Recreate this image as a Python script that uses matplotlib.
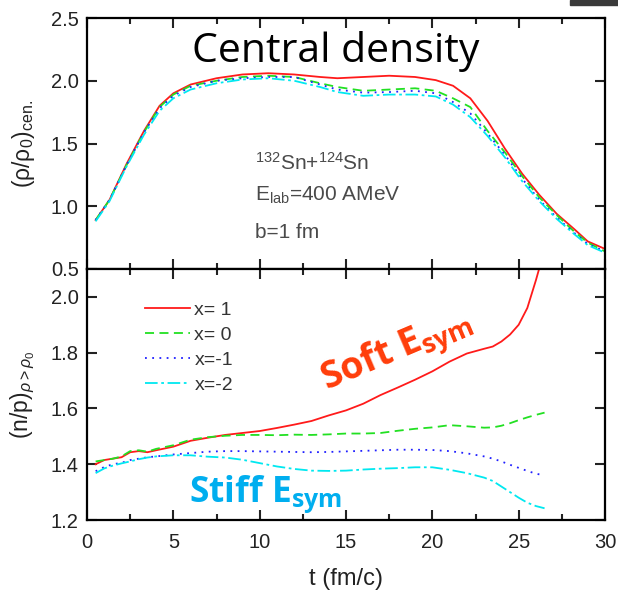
import matplotlib
matplotlib.use("Agg")
import matplotlib.pyplot as plt
from matplotlib.patches import Rectangle

plt.rcParams["font.family"] = ["Liberation Sans", "DejaVu Sans"]
plt.rcParams["mathtext.fontset"] = "custom"
plt.rcParams["mathtext.rm"] = "Liberation Sans"
plt.rcParams["mathtext.it"] = "Liberation Sans:italic"
plt.rcParams["mathtext.bf"] = "Liberation Sans:bold"
plt.rcParams["mathtext.sf"] = "Open Sans:bold"

# ---------------------------------------------------------------------------
# Data
# ---------------------------------------------------------------------------
labels = ["x= 1", "x= 0", "x=-1", "x=-2"]

# top panel: central density
t_top = [0.5, 1.3, 2.3, 3.3, 4.2, 5.0, 6.0, 7.5, 9.0, 10.5, 12.0, 13.5, 14.5,
         16.0, 17.5, 19.0, 20.2, 21.2, 22.2, 23.2, 24.2, 25.2, 26.2, 27.2,
         28.2, 29.0, 30.0]
rho_x1 = [0.89, 1.05, 1.34, 1.60, 1.80, 1.90, 1.97, 2.02, 2.05, 2.06, 2.05,
          2.03, 2.02, 2.03, 2.04, 2.03, 2.005, 1.96, 1.86, 1.68, 1.46, 1.26,
          1.09, 0.94, 0.82, 0.72, 0.66]
rho_x0 = [0.89, 1.05, 1.33, 1.59, 1.79, 1.89, 1.96, 2.00, 2.03, 2.04, 2.03,
          1.98, 1.95, 1.92, 1.93, 1.94, 1.92, 1.86, 1.79, 1.60, 1.43, 1.24,
          1.07, 0.93, 0.80, 0.71, 0.64]
rho_xm1 = [0.89, 1.05, 1.33, 1.59, 1.78, 1.88, 1.95, 2.00, 2.02, 2.03, 2.03,
           1.97, 1.93, 1.905, 1.91, 1.92, 1.90, 1.83, 1.74, 1.58, 1.41, 1.22,
           1.05, 0.91, 0.79, 0.70, 0.64]
rho_xm2 = [0.88, 1.04, 1.32, 1.57, 1.76, 1.86, 1.93, 1.98, 2.01, 2.02, 2.00,
           1.95, 1.91, 1.88, 1.89, 1.89, 1.875, 1.81, 1.71, 1.56, 1.39, 1.20,
           1.04, 0.90, 0.78, 0.69, 0.63]

# bottom panel: n/p ratio in compressed region
t_bot = [0.5, 1.0, 1.5, 2.0, 2.5, 3.0, 3.5, 4.0, 5.0, 6.0, 7.0, 8.0, 9.0,
         10.0, 11.0, 12.0, 13.0, 14.0, 15.0, 16.0, 17.0, 18.0, 19.0, 20.0,
         21.0, 22.0, 23.0, 23.5, 24.0, 24.5, 25.0, 25.5, 26.0, 26.5]
np_x1 = [1.40, 1.415, 1.42, 1.425, 1.443, 1.447, 1.443, 1.45, 1.463, 1.484,
         1.495, 1.505, 1.512, 1.519, 1.53, 1.542, 1.555, 1.575, 1.593, 1.617,
         1.648, 1.675, 1.703, 1.733, 1.768, 1.797, 1.814, 1.822, 1.84, 1.865,
         1.90, 1.96, 2.06, 2.17]
np_x0 = [1.41, 1.415, 1.42, 1.428, 1.447, 1.45, 1.445, 1.455, 1.468, 1.488,
         1.497, 1.502, 1.505, 1.505, 1.504, 1.506, 1.505, 1.507, 1.51, 1.51,
         1.512, 1.52, 1.527, 1.532, 1.54, 1.536, 1.531, 1.532, 1.538, 1.547,
         1.558, 1.568, 1.577, 1.585]
np_xm1 = [1.375, 1.39, 1.40, 1.405, 1.415, 1.42, 1.425, 1.428, 1.435, 1.44,
          1.445, 1.447, 1.447, 1.446, 1.445, 1.444, 1.443, 1.444, 1.446,
          1.448, 1.45, 1.452, 1.452, 1.451, 1.447, 1.439, 1.428, 1.42, 1.41,
          1.398, 1.387, 1.376, 1.366, 1.36]
np_xm2 = [1.368, 1.385, 1.395, 1.403, 1.41, 1.418, 1.424, 1.428, 1.432, 1.432,
          1.427, 1.424, 1.416, 1.404, 1.392, 1.383, 1.377, 1.376, 1.377,
          1.381, 1.384, 1.386, 1.389, 1.389, 1.38, 1.368, 1.352, 1.34, 1.32,
          1.30, 1.28, 1.262, 1.25, 1.242]

# ---------------------------------------------------------------------------
# Styles
# ---------------------------------------------------------------------------
colors = ["#ff1a1a", "#22e022", "#2020ff", "#00e8f0"]
styles = ["-", (0, (5, 3)), (0, (1, 3)), (0, (7, 2, 1.5, 2))]

fig = plt.figure(figsize=(6.18, 5.92), dpi=100)
ax1 = fig.add_axes([87 / 618, 1 - 269 / 592, 518 / 618, 251 / 592])
ax2 = fig.add_axes([87 / 618, 1 - 520 / 592, 518 / 618, 251 / 592])

for y, c, ls in zip([rho_x1, rho_x0, rho_xm1, rho_xm2], colors, styles):
    ax1.plot(t_top, y, color=c, ls=ls, lw=1.3)
for y, c, ls, lab in zip([np_x1, np_x0, np_xm1, np_xm2], colors, styles, labels):
    ax2.plot(t_bot, y, color=c, ls=ls, lw=1.3, label=lab)

for ax in (ax1, ax2):
    ax.set_xlim(0, 30)
    ax.set_xticks([0, 5, 10, 15, 20, 25, 30])
    ax.set_xticks([2.5, 7.5, 12.5, 17.5, 22.5, 27.5], minor=True)
    ax.tick_params(which="both", direction="in", top=True, right=True,
                   width=1.5, labelsize=14.5, colors="#222222")
    ax.tick_params(which="major", length=7)
    ax.tick_params(which="minor", length=4.5)
    ax.tick_params(axis="x", pad=9)
    ax.tick_params(axis="y", pad=6)
    for s in ax.spines.values():
        s.set_linewidth(1.6)

ax1.set_ylim(0.5, 2.5)
ax1.set_yticks([0.5, 1.0, 1.5, 2.0, 2.5])
ax1.tick_params(labelbottom=False)
ax1.set_ylabel(r"(ρ/ρ$_0$)$_{\mathrm{cen.}}$", fontsize=16.5, color="#222222")

ax2.set_ylim(1.2, 2.1)
ax2.set_yticks([1.2, 1.4, 1.6, 1.8, 2.0])
ax2.set_ylabel(r"(n/p)$_{ρ>ρ_0}$", fontsize=16.5, color="#222222")
ax2.set_xlabel("t (fm/c)", fontsize=17, color="#222222", labelpad=12)
ax1.yaxis.set_label_coords(-0.097, 0.5)
ax2.yaxis.set_label_coords(-0.097, 0.5)

# annotations
ax1.text(0.48, 0.865, "Central density", transform=ax1.transAxes,
         fontsize=29.5, family="Open Sans", ha="center", va="center",
         color="black")
ax1.text(0.324, 0.394, r"$^{132}$Sn+$^{124}$Sn", transform=ax1.transAxes,
         fontsize=15, color="#4a4a4a", va="baseline")
ax1.text(0.324, 0.271, r"E$_{\mathrm{lab}}$=400 AMeV", transform=ax1.transAxes,
         fontsize=15, color="#4a4a4a", va="baseline")
ax1.text(0.324, 0.124, "b=1 fm", transform=ax1.transAxes,
         fontsize=15, color="#4a4a4a", va="baseline")

ax2.text(0.598, 0.672, r"Soft E$_{\mathsf{sym}}$", transform=ax2.transAxes,
         fontsize=27, family="Open Sans", weight="bold", color="#ff3d0a",
         rotation=23, ha="center", va="center")
ax2.text(0.345, 0.10, r"Stiff E$_{\mathsf{sym}}$", transform=ax2.transAxes,
         fontsize=25.5, family="Open Sans", weight="bold", color="#00aeef",
         ha="center", va="center")

leg = ax2.legend(loc="upper left", bbox_to_anchor=(0.078, 0.94), frameon=False,
                 fontsize=14, handlelength=2.3, handletextpad=0.25,
                 labelspacing=0.38)
for txt in leg.get_texts():
    txt.set_color("#333333")

# small dark bar at the top-right corner of the original picture
fig.patches.append(Rectangle((570 / 618, 1 - 5 / 592), 48 / 618, 5 / 592,
                             transform=fig.transFigure, color="#3a3a3a"))

fig.savefig("out.png", dpi=100)
